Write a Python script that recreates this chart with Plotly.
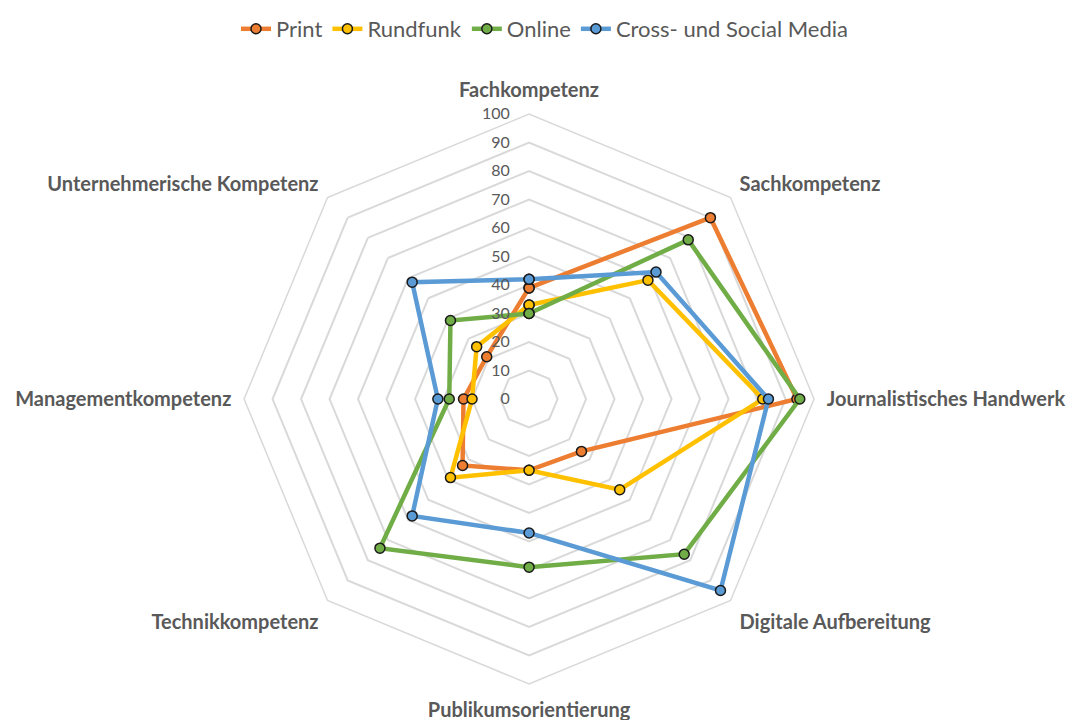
import plotly.graph_objects as go

categories = ["Fachkompetenz", "Sachkompetenz", "Journalistisches Handwerk", "Digitale Aufbereitung",
              "Publikumsorientierung", "Technikkompetenz", "Managementkompetenz",
              "Unternehmerische Kompetenz"]

print_vals = [39, 90, 94, 26, 25, 33, 23, 21]
rundfunk_vals = [33, 59, 82, 45, 25, 39, 20, 26]
online_vals = [30, 79, 95, 77, 59, 74, 28, 39]
cross_vals = [42, 63, 84, 95, 47, 58, 32, 58]

series = [
    ("Print", print_vals, "#ED7D31"),
    ("Rundfunk", rundfunk_vals, "#FFC000"),
    ("Online", online_vals, "#70AD47"),
    ("Cross- und Social Media", cross_vals, "#5B9BD5"),
]

fig = go.Figure()
for name, vals, color in series:
    # close the polygon
    fig.add_trace(go.Scatterpolar(
        r=vals + vals[:1],
        theta=categories + categories[:1],
        mode="lines+markers",
        name=name,
        line=dict(color=color, width=4.5),
        marker=dict(size=10, color=color, line=dict(color="#1a1a1a", width=1.5)),
    ))

grey = "#595959"
fig.update_layout(
    width=1074, height=720,
    margin=dict(l=0, r=0, t=0, b=0),
    paper_bgcolor="white",
    font=dict(family="Lato", color=grey),
    legend=dict(orientation="h", x=0.5, xanchor="center", y=1.0, yanchor="top",
                font=dict(size=22, color=grey), itemwidth=30),
    polar=dict(
        domain=dict(x=[0.2198, 0.7505], y=[0.0611, 0.8527]),
        bgcolor="white",
        gridshape="linear",
        angularaxis=dict(
            rotation=90, direction="clockwise",
            showgrid=False, showline=True, linecolor="#d9d9d9", linewidth=1.5,
            ticks="outside", ticklen=8, tickcolor="rgba(0,0,0,0)",
            tickfont=dict(size=20, color=grey, family="Lato", weight="bold"),
        ),
        radialaxis=dict(
            range=[0, 100], dtick=10, angle=90, tickangle=90, side="counterclockwise",
            ticksuffix="\u00a0" * 4,
            showline=False, ticks="", gridcolor="#d9d9d9", gridwidth=1.5,
            tickfont=dict(size=16, color=grey),
        ),
    ),
)

fig.write_html("out.html")
